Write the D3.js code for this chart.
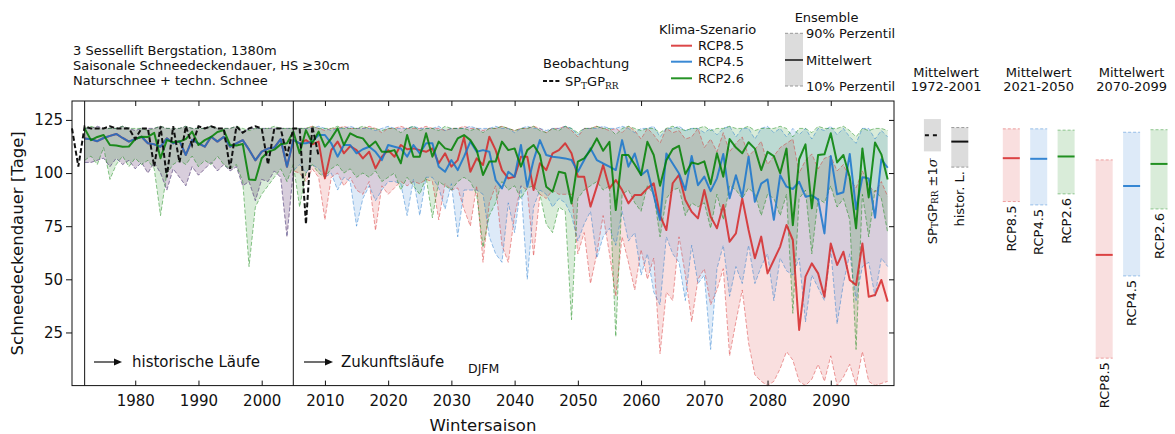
<!DOCTYPE html>
<html>
<head>
<meta charset="utf-8">
<script src="https://cdn.jsdelivr.net/npm/d3@7"></script>
<style>
  body { margin: 0; background: #fff; }
  svg { display: block; }
  text { font-family: "DejaVu Sans", sans-serif; fill: #111; }
</style>
</head>
<body>
<svg id="chart" width="1175" height="434"></svg>
<script>
// ---------- data ----------
const obsYears  = d3.range(1970, 2010);
const histYears = d3.range(1972, 2006);
const futYears  = d3.range(2006, 2100);

// observation-based reconstruction (SP_T GP_RR), days
const obs = [121,103,122,121,121,121,122,121,121,121, 116,121,121,103,122,98,122,105,122,113,
             122,121,122,121,121,102,122,119,121,122, 121,104,121,121,108,121,121,76,122,108];

// historical runs, model set of RCP8.5 / RCP4.5
const histMean = [116.3,115.9,115.0,116.5,117.5,118.4,116.5,114.8,116.0,117.1, 114.0,113.5,112.4,116.3,114.0,115.0,108.5,115.6,114.0,112.4,
                  117.1,114.8,117.0,112.4,114.0,115.5,111.0,106.0,110.1,111.5, 112.0,116.0,103.0,115.6];
const histP10  = [105,105,106,107,103,107,104,106,102,105, 100,105,100,92,102,98,94,103,99,102,
                  105,101,104,101,103,94,96,87,97,96, 101,98,70,101];
const histP90  = [121,121,122,121,121,121,122,121,120,121, 121,121,122,121,121,121,122,121,121,121,
                  122,121,121,121,122,119,121,121,121,121, 121,121,121,121];
// historical runs, model set of RCP2.6
const hist26Mean = [121.0,115.5,117.0,117.9,113.2,113.0,112.4,112.5,116.0,117.1, 117.0,118.9,107.0,115.5,114.5,114.8,116.0,119.5,113.2,115.5,
                    117.0,119.3,120.2,113.2,113.0,113.7,97.0,96.7,107.0,110.0, 111.0,113.5,114.0,119.5];
const hist26P10  = [106,108,104,112,97,104,108,103,107,104, 106,102,80,100,104,106,104,108,103,106,
                    104,108,104,102,104,96,56,84,90,94, 98,102,96,104];
const hist26P90  = [121,122,121,121,121,121,122,121,121,121, 120,121,122,121,121,121,122,121,121,121,
                    122,121,121,121,122,121,120,121,121,121, 122,121,121,121];

// scenario runs 2006-2099
const rcp85Mean = [114,115.5,113.5,114.8,97.5,110.8,114.8,109.3,112.7,110.8, 106.9,110,102.2,107.7,110.8,107.7,113.2,111.2,111.6,110.8,
                   110,111.6,104.6,109.3,103,106.1,116.8,100.6,106.9,103.8, 117.1,110.8,101.4,97.5,98.3,107.7,107.7,92,104.6,101.4,
                   109.3,110.8,114,109.3,98.3,98.3,84.2,93.6,103.8,92.8, 96.7,92,85.7,89.7,89.7,92.8,95.2,80,73.2,95.2,
                   99.1,87.3,81.8,78.7,92,79.5,74,85,67.7,71.6, 88.1,73.2,59.9,70.1,52.8,59.1,65.4,75.6,68.5,26.2,
                   51.3,57.5,52.8,41.8,66.9,56.7,63,49.7,47.3,66.9, 41.8,42.6,49.7,39.5];
const rcp85P10  = [100,96,102,98,78,98,100,94,98,92, 90,96,73,94,90,93,96,94,96,95,
                   97,96,78,95,92,93,83,75,94,58, 86,94,66,58,80,94,92,61,90,88,
                   92,90,90,90,62,72,48,62,80,62, 42,70,58,45,64,50,60,15,44,40,
                   70,52,30,50,55,38,45,55,14,30, 45,20,5,2,0,2,8,16,12,2,
                   0,3,10,2,14,0,4,10,0,16, 2,0,1,2];
const rcp85P90  = [121,121,122,121,120,121,121,122,121,121, 121,122,121,119,121,121,122,121,121,121,
                   122,121,121,120,121,121,122,121,121,120, 121,121,122,121,120,121,121,122,121,119,
                   121,121,122,120,117,121,121,122,121,120, 121,119,122,120,116,121,118,114,121,119,
                   120,116,117,121,112,116,110,119,110,114, 117,108,111,115,104,108,112,114,116,100,
                   106,109,102,107,108,101,104,97,93,101, 94,91,96,89];

const rcp45Mean = [114,114,114.8,117.9,117.9,114,107.7,113.2,113.2,109.3, 111.2,112.4,110,106.1,113.2,112.4,111.6,107.7,113.2,109.3,
                   114,114,103,100.6,106.1,101.4,107.7,114.8,110,110.8, 110,96.7,92.8,100.6,98.3,113.2,93.6,106.1,115.5,108.5,
                   107.7,107.3,106.9,106.1,100.6,106.1,111.6,106.1,104.5,103, 101.4,115.5,103,109.2,99,101.4,89.6,77.9,109.2,104.5,
                   99.8,92,108,94.3,98.3,91.5,97.5,109,88.1,99, 88.7,107.7,86.5,95,97,78,99,93.6,92.5,95.9,
                   88.9,89.5,87.5,71.6,108,90,91,109,83,98, 97.5,79,106.5,102.5];
const rcp45P10  = [104,100,104,102,98,100,92,98,96,75, 88,94,87,92,96,96,95,80,97,80,
                   98,98,93,83,95,70,92,92,92,90, 70,62,58,86,72,94,50,84,92,90,
                   84,88,86,80,68,76,82,60,70,74, 66,82,68,72,52,62,44,38,70,62,
                   58,40,66,48,52,17,55,66,42,56, 48,66,48,56,62,40,60,54,52,60,
                   30,52,46,40,64,29,48,62,40,56, 58,42,60,56];
const rcp45P90  = [121,121,121,122,121,120,121,121,122,121, 121,121,120,121,122,121,121,121,122,121,
                   121,121,122,120,121,121,121,122,121,121, 121,122,121,121,119,121,122,121,121,120,
                   121,121,122,121,118,121,121,121,122,121, 121,122,121,119,121,121,122,117,121,121,
                   122,120,121,121,119,121,118,121,122,117, 121,121,116,121,122,119,121,117,121,118,
                   121,116,121,120,122,118,121,117,114,121, 121,116,120,117];

const rcp26Mean = [109.3,120.2,114,119.5,112.4,116.3,121,113.2,118.7,117.1, 116.3,112.4,114.8,110,110,110.8,104.6,117.9,107.7,107.7,
                   118.7,107.7,114.8,111.6,110.8,116.3,117.9,115.5,110.8,99.1, 105.4,105.4,114.8,110.8,111.6,103,110.8,113.2,108.5,93.6,
                   91.2,100.6,99.9,85.7,105.4,106.9,110.8,116.3,110.5,114.7, 82.6,108.5,108.5,104,99.1,114.7,108.5,94,106,111.2,
                   112.8,99.5,105,104.2,105.5,94.8,109.3,98.3,116,112, 109.3,114.5,111.5,101.4,110,108,99.9,111.5,75.5,106.5,
                   113.5,83.4,108.5,108.8,118.7,105,108.5,98,74,111.6, 88.5,114.4,108.8,97];
const rcp26P10  = [84,100,104,100,98,102,104,100,102,98, 100,98,101,96,98,100,92,98,94,90,
                   98,79,96,94,92,96,98,96,90,65, 80,86,96,92,94,88,93,94,90,76,
                   72,84,82,31,88,92,94,96,92,94, 23,90,92,86,82,94,90,70,88,92,
                   93,80,86,84,86,74,90,78,94,92, 88,93,90,80,90,88,80,90,34,88,
                   92,62,88,86,94,84,88,78,17,90, 70,92,88,72];
const rcp26P90  = [121,121,122,121,121,121,122,121,121,121, 122,121,121,120,121,121,119,121,122,120,
                   121,121,120,122,121,121,121,120,121,119, 121,121,122,121,120,121,121,122,120,119,
                   121,120,122,121,119,121,121,122,121,121, 118,121,122,121,120,121,121,119,121,122,
                   121,120,121,121,122,120,121,121,122,121, 121,122,120,121,121,121,122,121,117,121,
                   121,119,122,121,121,121,122,120,117,121, 120,121,121,120];

// 30-year means shown on the right
const periodLabels  = ["1972-2001", "2021-2050", "2070-2099"];
const scenarioNames = ["RCP8.5", "RCP4.5", "RCP2.6"];
const scenarioColors = ["#d62728", "#1874cd", "#008000"];
const obsRefMean = 117.8, obsRefSd = 7.6;                 // SP_T GP_RR 1972-2001, mean ± 1 sigma
const histRef = { p10: 102.8, mean: 114.8, p90: 121.4 };  // historical runs 1972-2001
const midP10  = [86.6, 85.0, 90.2],  midMean = [107.0, 106.7, 107.8], midP90 = [120.8, 120.8, 120.2];
const endP10  = [12.9, 51.6, 83.1],  endMean = [61.5, 93.9, 104.3],   endP90 = [106.2, 119.2, 120.4];

const xTicks = d3.range(1980, 2100, 10);
const yTicks = [25, 50, 75, 100, 125];

// ---------- scales ----------
const svg = d3.select("#chart");
const x = d3.scaleLinear().domain([1970, 2100]).range([72, 894]);
const y = d3.scaleLinear().domain([0, 133.9]).range([385.6, 101]);
const [L, R] = x.range();
const [B, T] = y.range();

function rows(years, mean, p10, p90) {
  return years.map((yr, i) => ({ year: yr, mean: mean[i], p10: p10[i], p90: p90[i] }));
}
const allYears = histYears.concat(futYears);
const scenarios = [
  { color: scenarioColors[0], data: rows(allYears, histMean.concat(rcp85Mean), histP10.concat(rcp85P10), histP90.concat(rcp85P90)) },
  { color: scenarioColors[1], data: rows(allYears, histMean.concat(rcp45Mean), histP10.concat(rcp45P10), histP90.concat(rcp45P90)) },
  { color: scenarioColors[2], data: rows(allYears, hist26Mean.concat(rcp26Mean), hist26P10.concat(rcp26P10), hist26P90.concat(rcp26P90)) }
];

const band = d3.area().x(d => x(d.year)).y0(d => y(d.p10)).y1(d => y(d.p90));
const lineOf = key => d3.line().x(d => x(d.year)).y(d => y(d[key]));

const plot = svg.append("g");

// ensemble ranges
scenarios.forEach(s => {
  plot.append("path").attr("d", band(s.data))
    .attr("fill", s.color).attr("fill-opacity", 0.15).attr("stroke", "none");
});
scenarios.forEach(s => {
  ["p10", "p90"].forEach(k => {
    plot.append("path").attr("d", lineOf(k)(s.data))
      .attr("fill", "none").attr("stroke", s.color).attr("stroke-opacity", 0.45)
      .attr("stroke-width", 1).attr("stroke-dasharray", "4,2");
  });
});
// ensemble means
scenarios.forEach(s => {
  plot.append("path").attr("d", lineOf("mean")(s.data))
    .attr("fill", "none").attr("stroke", s.color).attr("stroke-opacity", 0.85)
    .attr("stroke-width", 2).attr("stroke-linejoin", "round");
});
// observation
plot.append("path")
  .datum(obsYears.map((yr, i) => ({ year: yr, v: obs[i] })))
  .attr("d", d3.line().x(d => x(d.year)).y(d => y(d.v)))
  .attr("fill", "none").attr("stroke", "#111").attr("stroke-width", 2)
  .attr("stroke-dasharray", "5,2.5");

// period separators
[1972, 2005].forEach(yr => {
  plot.append("line").attr("x1", x(yr)).attr("x2", x(yr)).attr("y1", T).attr("y2", B)
    .attr("stroke", "#111").attr("stroke-width", 1);
});

// ---------- axes ----------
function styleAxis(sel, fontSize) {
  sel.select(".domain").remove();
  sel.selectAll(".tick line").attr("stroke", "#111");
  sel.selectAll(".tick text").attr("fill", "#111")
    .style("font-family", "'DejaVu Sans', sans-serif").style("font-size", fontSize + "px");
}
svg.append("g").attr("transform", `translate(0,${B})`)
  .call(d3.axisBottom(x).tickValues(xTicks).tickFormat(d3.format("d")).tickSize(-5).tickPadding(9.5))
  .call(s => styleAxis(s, 15));
svg.append("g").attr("transform", `translate(0,${T})`)
  .call(d3.axisTop(x).tickValues(xTicks).tickFormat("").tickSize(-5))
  .call(s => styleAxis(s, 15));
svg.append("g").attr("transform", `translate(${L},0)`)
  .call(d3.axisLeft(y).tickValues(yTicks).tickSize(6).tickPadding(3))
  .call(s => styleAxis(s, 15));
svg.append("g").attr("transform", `translate(${R},0)`)
  .call(d3.axisRight(y).tickValues(yTicks).tickFormat("").tickSize(-5))
  .call(s => styleAxis(s, 15));

svg.append("rect").attr("x", L).attr("y", T).attr("width", R - L).attr("height", B - T)
  .attr("fill", "none").attr("stroke", "#111").attr("stroke-width", 1);

svg.append("text").attr("x", (L + R) / 2).attr("y", 431).attr("text-anchor", "middle")
  .style("font-size", "16.5px").text("Wintersaison");
svg.append("text").attr("transform", `translate(23,${(T + B) / 2}) rotate(-90)`)
  .attr("text-anchor", "middle").style("font-size", "16.5px").text("Schneedeckendauer [Tage]");

// ---------- annotations inside the plot ----------
function arrow(x0, x1, yy) {
  svg.append("line").attr("x1", x0).attr("x2", x1 - 7).attr("y1", yy).attr("y2", yy)
    .attr("stroke", "#111").attr("stroke-width", 1.2);
  svg.append("path").attr("d", `M${x1},${yy}L${x1 - 8},${yy - 3.5}L${x1 - 8},${yy + 3.5}Z`).attr("fill", "#111");
}
arrow(94, 122, 362);
svg.append("text").attr("x", 132).attr("y", 367.3).style("font-size", "15px").text("historische Läufe");
arrow(304, 333, 362);
svg.append("text").attr("x", 341).attr("y", 367.3).style("font-size", "15px").text("Zukunftsläufe");
svg.append("text").attr("x", 468).attr("y", 372.5).style("font-size", "12.5px").text("DJFM");

// ---------- header text ----------
const info = ["3 Sessellift Bergstation, 1380m", "Saisonale Schneedeckendauer, HS \u226530cm", "Naturschnee + techn. Schnee"];
info.forEach((t, i) => {
  svg.append("text").attr("x", 73).attr("y", 54.6 + i * 15).style("font-size", "13px").text(t);
});

function spLabel(sel) {
  sel.append("tspan").text("SP");
  sel.append("tspan").attr("dy", 3).style("font-family", "'DejaVu Serif', serif").style("font-size", "9px").text("T");
  sel.append("tspan").attr("dy", -3).text("GP");
  sel.append("tspan").attr("dy", 3).style("font-family", "'DejaVu Serif', serif").style("font-size", "9px").text("RR");
  return sel;
}

// legend: observation
svg.append("text").attr("x", 543).attr("y", 68).style("font-size", "13px").text("Beobachtung");
svg.append("line").attr("x1", 543).attr("x2", 560).attr("y1", 81).attr("y2", 81)
  .attr("stroke", "#111").attr("stroke-width", 2).attr("stroke-dasharray", "4,2.2");
spLabel(svg.append("text").attr("x", 565).attr("y", 85.7).style("font-size", "13px"));

// legend: scenarios
svg.append("text").attr("x", 707.6).attr("y", 34).attr("text-anchor", "middle").style("font-size", "13px").text("Klima-Szenario");
scenarioNames.forEach((n, i) => {
  const yy = [45.7, 61.7, 78.3][i];
  svg.append("line").attr("x1", 671).attr("x2", 692).attr("y1", yy).attr("y2", yy)
    .attr("stroke", scenarioColors[i]).attr("stroke-opacity", 0.85).attr("stroke-width", 2);
  svg.append("text").attr("x", 698).attr("y", yy + 4.6).style("font-size", "13px").text(n);
});

// legend: ensemble
svg.append("text").attr("x", 826.5).attr("y", 22).attr("text-anchor", "middle").style("font-size", "13px").text("Ensemble");
svg.append("rect").attr("x", 785).attr("y", 33.3).attr("width", 18).attr("height", 52.7).attr("fill", "#dcdcdc");
[33.3, 86].forEach(yy => svg.append("line").attr("x1", 785).attr("x2", 803).attr("y1", yy).attr("y2", yy)
  .attr("stroke", "#999").attr("stroke-width", 1).attr("stroke-dasharray", "3,2"));
svg.append("line").attr("x1", 785).attr("x2", 803).attr("y1", 60).attr("y2", 60).attr("stroke", "#444").attr("stroke-width", 2);
[["90% Perzentil", 33.3], ["Mittelwert", 60], ["10% Perzentil", 86]].forEach(([t, yy]) => {
  svg.append("text").attr("x", 806).attr("y", yy + 4.6).style("font-size", "13px").text(t);
});

// ---------- 30-year means ----------
const groupCenters = [946.1, 1038.7, 1131.6];
const barStep = 27.4, barW = 17;

periodLabels.forEach((p, i) => {
  svg.append("text").attr("x", groupCenters[i]).attr("y", 77.3).attr("text-anchor", "middle").style("font-size", "13px").text("Mittelwert");
  svg.append("text").attr("x", groupCenters[i]).attr("y", 91.3).attr("text-anchor", "middle").style("font-size", "13px").text(p);
});

function rotLabel(cx, yTop) {
  return svg.append("text")
    .attr("transform", `translate(${cx},${yTop}) rotate(-90)`)
    .attr("text-anchor", "end").attr("dominant-baseline", "central")
    .style("font-size", "13px");
}

// observation: mean ± 1 sigma
{
  const cx = groupCenters[0] - barStep / 2;
  svg.append("rect").attr("x", cx - barW / 2).attr("width", barW)
    .attr("y", y(obsRefMean + obsRefSd)).attr("height", y(obsRefMean - obsRefSd) - y(obsRefMean + obsRefSd))
    .attr("fill", "#dcdcdc");
  svg.append("line").attr("x1", cx - barW / 2 + 1).attr("x2", cx + barW / 2 - 1)
    .attr("y1", y(obsRefMean)).attr("y2", y(obsRefMean))
    .attr("stroke", "#111").attr("stroke-width", 2).attr("stroke-dasharray", "4,4");
  const t = spLabel(rotLabel(cx, y(obsRefMean - obsRefSd) + 7));
  t.append("tspan").attr("dy", -3).text(" \u00b11");
  t.append("tspan").style("font-family", "'DejaVu Serif', serif").style("font-style", "italic").text("\u03c3");
}
// historical runs
{
  const cx = groupCenters[0] + barStep / 2;
  svg.append("rect").attr("x", cx - barW / 2).attr("width", barW)
    .attr("y", y(histRef.p90)).attr("height", y(histRef.p10) - y(histRef.p90)).attr("fill", "#dcdcdc");
  [histRef.p10, histRef.p90].forEach(v => svg.append("line")
    .attr("x1", cx - barW / 2).attr("x2", cx + barW / 2).attr("y1", y(v)).attr("y2", y(v))
    .attr("stroke", "#999").attr("stroke-width", 1).attr("stroke-dasharray", "3,2"));
  svg.append("line").attr("x1", cx - barW / 2).attr("x2", cx + barW / 2)
    .attr("y1", y(histRef.mean)).attr("y2", y(histRef.mean)).attr("stroke", "#111").attr("stroke-width", 2);
  rotLabel(cx, y(histRef.p10) + 4).text("histor. L.");
}
// scenario periods
[[midP10, midMean, midP90], [endP10, endMean, endP90]].forEach(([p10, mean, p90], gi) => {
  const gc = groupCenters[gi + 1];
  scenarioNames.forEach((n, i) => {
    const cx = gc + (i - 1) * barStep;
    const c = scenarioColors[i];
    svg.append("rect").attr("x", cx - barW / 2).attr("width", barW)
      .attr("y", y(p90[i])).attr("height", y(p10[i]) - y(p90[i]))
      .attr("fill", c).attr("fill-opacity", 0.15);
    [p10[i], p90[i]].forEach(v => svg.append("line")
      .attr("x1", cx - barW / 2).attr("x2", cx + barW / 2).attr("y1", y(v)).attr("y2", y(v))
      .attr("stroke", c).attr("stroke-opacity", 0.4).attr("stroke-width", 1).attr("stroke-dasharray", "3,2"));
    svg.append("line").attr("x1", cx - barW / 2).attr("x2", cx + barW / 2)
      .attr("y1", y(mean[i])).attr("y2", y(mean[i]))
      .attr("stroke", c).attr("stroke-opacity", 0.85).attr("stroke-width", 2);
    rotLabel(cx, y(p10[i]) + 4).text(n);
  });
});
</script>
</body>
</html>
